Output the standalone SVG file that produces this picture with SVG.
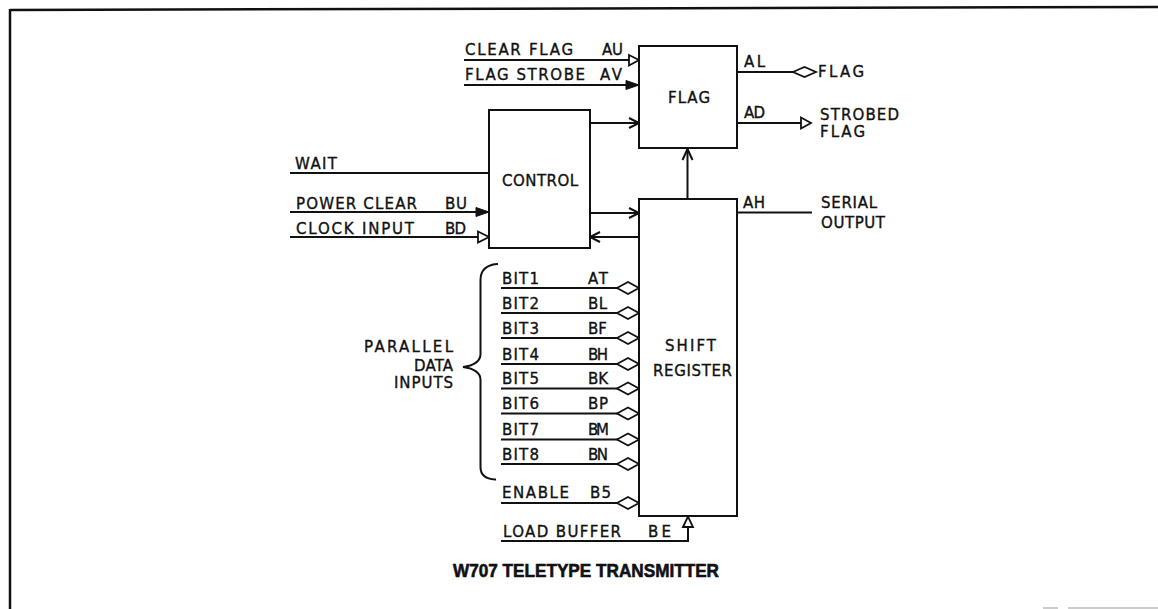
<svg xmlns="http://www.w3.org/2000/svg" width="1158" height="609" viewBox="0 0 1158 609">
<style>
  .ln{stroke:#111;stroke-width:2;fill:none;stroke-linecap:square}
  .box{stroke:#111;stroke-width:2;fill:#fff}
  .open{stroke:#111;stroke-width:1.8;fill:#fff;stroke-linejoin:miter}
  .fill{stroke:#111;stroke-width:1;fill:#111}
  .chev{stroke:#111;stroke-width:2;fill:none;stroke-linejoin:miter}
  text{font-family:"DejaVu Sans","Liberation Sans",Arial,sans-serif;font-size:15px;fill:#111;stroke:#111;stroke-width:0.35}
  .title{font-family:"Liberation Sans",Arial,sans-serif;font-size:18px;font-weight:bold;stroke-width:0.6}
</style>
<rect x="0" y="0" width="1158" height="609" fill="#fff"/>
<g id="border">
  <line x1="10" y1="10" x2="1158" y2="7" stroke="#111" stroke-width="2.5"/>
  <line x1="10" y1="9" x2="10" y2="609" stroke="#111" stroke-width="2.5"/>
  <line x1="1043" y1="608" x2="1058" y2="608" stroke="#999" stroke-width="1"/>
  <line x1="1068" y1="608" x2="1158" y2="608" stroke="#999" stroke-width="1"/>
</g>

<g id="connectors">
  <!-- flag inputs -->
  <line class="ln" x1="465" y1="60" x2="630" y2="60"/>
  <polygon class="open" points="629,55 639,60 629,65.5"/>
  <line class="ln" x1="465" y1="85" x2="628" y2="85"/>
  <polygon class="fill" points="626,80.5 639,85 626,89.5"/>
  <!-- flag outputs -->
  <line class="ln" x1="737" y1="72" x2="793" y2="72"/>
  <polygon class="open" points="793,72 804.5,67 816,72 804.5,77"/>
  <line class="ln" x1="737" y1="123" x2="801" y2="123"/>
  <polygon class="open" points="801,117.5 811,123 801,128.5"/>
  <!-- control to flag -->
  <line class="ln" x1="590" y1="123" x2="638" y2="123"/>
  <polyline class="chev" points="629,118 639,123 629,128"/>
  <!-- control inputs -->
  <line class="ln" x1="291" y1="173" x2="489" y2="173"/>
  <line class="ln" x1="291" y1="212" x2="478" y2="212"/>
  <polygon class="fill" points="476,207.5 489,212 476,216.5"/>
  <line class="ln" x1="291" y1="237" x2="478" y2="237"/>
  <polygon class="open" points="478,231.5 489,237 478,242.5"/>
  <!-- control to shift -->
  <line class="ln" x1="590" y1="213" x2="638" y2="213"/>
  <polyline class="chev" points="629,208 639,213 629,218"/>
  <!-- shift to control -->
  <line class="ln" x1="591" y1="237" x2="639" y2="237"/>
  <polyline class="chev" points="600,232 590,237 600,242"/>
  <!-- shift to flag -->
  <line class="ln" x1="687.5" y1="199" x2="687.5" y2="150"/>
  <polyline class="chev" points="682.5,160 687.5,149 692.5,160"/>
  <!-- serial output -->
  <line class="ln" x1="737" y1="212.5" x2="811" y2="212.5"/>
  <!-- bit inputs -->
  <line class="ln" x1="502" y1="288" x2="617" y2="288"/>
  <polygon class="open" points="617,288 628,282 639,288 628,294"/>
  <line class="ln" x1="502" y1="313" x2="617" y2="313"/>
  <polygon class="open" points="617,313 628,307 639,313 628,319"/>
  <line class="ln" x1="502" y1="338" x2="617" y2="338"/>
  <polygon class="open" points="617,338 628,332 639,338 628,344"/>
  <line class="ln" x1="502" y1="364" x2="617" y2="364"/>
  <polygon class="open" points="617,364 628,358 639,364 628,370"/>
  <line class="ln" x1="502" y1="388.5" x2="617" y2="388.5"/>
  <polygon class="open" points="617,388.5 628,382.5 639,388.5 628,394.5"/>
  <line class="ln" x1="502" y1="413.5" x2="617" y2="413.5"/>
  <polygon class="open" points="617,413.5 628,407.5 639,413.5 628,419.5"/>
  <line class="ln" x1="502" y1="439.5" x2="617" y2="439.5"/>
  <polygon class="open" points="617,439.5 628,433.5 639,439.5 628,445.5"/>
  <line class="ln" x1="502" y1="464" x2="617" y2="464"/>
  <polygon class="open" points="617,464 628,458 639,464 628,470"/>
  <!-- enable -->
  <line class="ln" x1="502" y1="503" x2="617" y2="503"/>
  <polygon class="open" points="617,503 628,497 639,503 628,509"/>
  <!-- load buffer -->
  <polyline class="ln" points="502,541 688,541 688,527"/>
  <polygon class="open" points="683,527 688,516.5 693,527"/>
  <!-- brace -->
  <path class="ln" stroke-linecap="round" d="M497,264 C486,265 480.5,270 480.5,280 L480.5,354 C480.5,361 474,365.5 463,367 C474,368.5 480.5,373 480.5,380 L480.5,467 C480.5,475 486,479 495,479.5"/>
</g>

<g id="node-flag">
  <rect class="box" x="639" y="46" width="98" height="102"/>
  <text x="668" y="103" textLength="42">FLAG</text>
</g>
<g id="node-control">
  <rect class="box" x="489" y="110" width="101" height="138"/>
  <text x="502" y="186" textLength="76">CONTROL</text>
</g>
<g id="node-shift-register">
  <rect class="box" x="639" y="199" width="98" height="317"/>
  <text x="665" y="351" textLength="51">SHIFT</text>
  <text x="653" y="376" textLength="79">REGISTER</text>
</g>

<g id="labels">
  <text x="465" y="55" textLength="108">CLEAR FLAG</text>
  <text x="602" y="55" textLength="21">AU</text>
  <text x="465" y="80" textLength="120">FLAG STROBE</text>
  <text x="600" y="80" textLength="22">AV</text>
  <text x="744" y="67" textLength="21">AL</text>
  <text x="818" y="77" textLength="46">FLAG</text>
  <text x="744" y="118" textLength="21">AD</text>
  <text x="820" y="120" textLength="79">STROBED</text>
  <text x="820" y="137" textLength="45">FLAG</text>
  <text x="295" y="169" textLength="42">WAIT</text>
  <text x="296" y="209" textLength="121">POWER CLEAR</text>
  <text x="445" y="209" textLength="22">BU</text>
  <text x="296" y="234" textLength="118">CLOCK INPUT</text>
  <text x="445" y="234" textLength="21">BD</text>
  <text x="743" y="208" textLength="22">AH</text>
  <text x="821" y="208" textLength="56">SERIAL</text>
  <text x="821" y="228" textLength="64">OUTPUT</text>

  <text x="364" y="352" textLength="89">PARALLEL</text>
  <text x="414" y="371" textLength="39">DATA</text>
  <text x="394" y="388" textLength="59">INPUTS</text>

  <text x="502" y="283.5" textLength="37">BIT1</text>
  <text x="588" y="283.5" textLength="20">AT</text>
  <text x="502" y="308.5" textLength="37">BIT2</text>
  <text x="588" y="308.5" textLength="19">BL</text>
  <text x="502" y="333.5" textLength="37">BIT3</text>
  <text x="588" y="333.5" textLength="19">BF</text>
  <text x="502" y="359.5" textLength="37">BIT4</text>
  <text x="588" y="359.5" textLength="20">BH</text>
  <text x="502" y="384" textLength="37">BIT5</text>
  <text x="588" y="384" textLength="20">BK</text>
  <text x="502" y="409" textLength="37">BIT6</text>
  <text x="588" y="409" textLength="20">BP</text>
  <text x="502" y="435" textLength="37">BIT7</text>
  <text x="588" y="435" textLength="21">BM</text>
  <text x="502" y="460" textLength="37">BIT8</text>
  <text x="588" y="460" textLength="20">BN</text>
  <text x="502" y="498" textLength="67">ENABLE</text>
  <text x="590" y="498" textLength="21">B5</text>
  <text x="503" y="537" textLength="118">LOAD BUFFER</text>
  <text x="648" y="537" textLength="23">BE</text>

  <text class="title" x="453" y="577" textLength="266" lengthAdjust="spacingAndGlyphs">W707 TELETYPE TRANSMITTER</text>
</g>
</svg>
